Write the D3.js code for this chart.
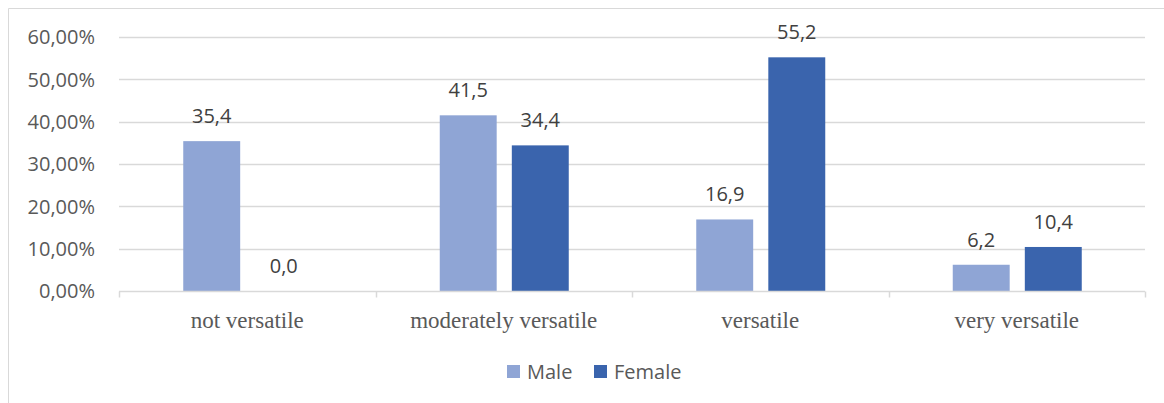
<!DOCTYPE html>
<html lang="en">
<head>
    <meta charset="UTF-8">
    <title>Versatility by gender</title>
    <script src="https://cdnjs.cloudflare.com/ajax/libs/d3/7.8.5/d3.min.js"></script>
    <style>
        body {
            margin: 0;
            background-color: white;
        }
        .y-label, .data-label, .legend text {
            font-family: "Open Sans", "Liberation Sans", sans-serif;
        }
        .cat-label {
            font-family: "Liberation Serif", "Times New Roman", serif;
        }
    </style>
</head>
<body>
    <svg id="chart"></svg>

    <script>
        // Chart data
        const categories = ["not versatile", "moderately versatile", "versatile", "very versatile"];
        const seriesNames = ["Male", "Female"];
        const maleValues = [35.4, 41.5, 16.9, 6.2];
        const femaleValues = [0.0, 34.4, 55.2, 10.4];
        const yTicks = [0, 10, 20, 30, 40, 50, 60];

        const COLORS = { Male: "#8fa5d5", Female: "#3a64ad" };

        const width = 1164;
        const height = 403;
        const margin = { top: 37, right: 19, bottom: 112, left: 119 };

        const svg = d3.select("#chart")
            .attr("width", width)
            .attr("height", height);

        // Outer chart border (top and left visible)
        svg.append("line")
            .attr("x1", 8.5).attr("x2", width)
            .attr("y1", 8.5).attr("y2", 8.5)
            .attr("stroke", "#d9d9d9");
        svg.append("line")
            .attr("x1", 8.5).attr("x2", 8.5)
            .attr("y1", 8.5).attr("y2", height)
            .attr("stroke", "#d9d9d9");

        const x = d3.scaleBand()
            .domain(categories)
            .range([margin.left, width - margin.right]);

        const y = d3.scaleLinear()
            .domain([0, 60])
            .range([height - margin.bottom, margin.top]);

        const xSub = d3.scaleBand()
            .domain(seriesNames)
            .range([x.bandwidth() / 2 - 64, x.bandwidth() / 2 + 65])
            .paddingInner(0.21);

        // Gridlines
        svg.append("g")
            .selectAll("line")
            .data(yTicks.filter(t => t > 0))
            .enter().append("line")
            .attr("x1", margin.left)
            .attr("x2", width - margin.right)
            .attr("y1", d => Math.round(y(d)) + 0.5)
            .attr("y2", d => Math.round(y(d)) + 0.5)
            .attr("stroke", "#d9d9d9")
            .attr("stroke-width", 1.5);

        // Y labels
        svg.append("g")
            .selectAll("text")
            .data(yTicks)
            .enter().append("text")
            .attr("class", "y-label")
            .attr("x", 95)
            .attr("y", d => y(d))
            .attr("dy", "0.36em")
            .attr("text-anchor", "end")
            .attr("font-size", 20)
            .attr("fill", "#595959")
            .text(d => d.toFixed(2).replace(".", ",") + "%");

        // Bars
        const rows = categories.map((c, i) => ({
            category: c,
            values: [
                { series: "Male", value: maleValues[i] },
                { series: "Female", value: femaleValues[i] }
            ]
        }));

        const groups = svg.append("g")
            .selectAll("g")
            .data(rows)
            .enter().append("g")
            .attr("transform", d => `translate(${x(d.category)},0)`);

        groups.selectAll("rect")
            .data(d => d.values)
            .enter().append("rect")
            .attr("x", d => xSub(d.series))
            .attr("width", xSub.bandwidth())
            .attr("y", d => y(d.value))
            .attr("height", d => y(0) - y(d.value))
            .attr("fill", d => COLORS[d.series]);

        groups.selectAll("text")
            .data(d => d.values)
            .enter().append("text")
            .attr("class", "data-label")
            .attr("x", d => xSub(d.series) + xSub.bandwidth() / 2)
            .attr("y", d => y(d.value) - 18)
            .attr("text-anchor", "middle")
            .attr("font-size", 20)
            .attr("fill", "#404040")
            .text(d => d.value.toFixed(1).replace(".", ","));

        // X axis baseline and ticks
        const axisY = Math.round(y(0)) + 0.5;
        svg.append("line")
            .attr("x1", margin.left).attr("x2", width - margin.right)
            .attr("y1", axisY).attr("y2", axisY)
            .attr("stroke", "#d9d9d9")
            .attr("stroke-width", 1.5);

        const tickXs = categories.map(c => x(c)).concat([width - margin.right]);
        svg.append("g")
            .selectAll("line")
            .data(tickXs)
            .enter().append("line")
            .attr("x1", d => Math.round(d) + 0.5)
            .attr("x2", d => Math.round(d) + 0.5)
            .attr("y1", axisY)
            .attr("y2", axisY + 6)
            .attr("stroke", "#d9d9d9")
            .attr("stroke-width", 1.5);

        // Category labels
        svg.append("g")
            .selectAll("text")
            .data(categories)
            .enter().append("text")
            .attr("class", "cat-label")
            .attr("x", d => x(d) + x.bandwidth() / 2)
            .attr("y", 328)
            .attr("text-anchor", "middle")
            .attr("font-size", 23)
            .attr("fill", "#595959")
            .text(d => d);

        // Legend
        const legendItems = [
            { name: "Male", x: 507 },
            { name: "Female", x: 594 }
        ];
        const legend = svg.append("g").attr("class", "legend");
        const li = legend.selectAll("g")
            .data(legendItems)
            .enter().append("g")
            .attr("transform", d => `translate(${d.x},365)`);
        li.append("rect")
            .attr("width", 13)
            .attr("height", 13)
            .attr("fill", d => COLORS[d.name]);
        li.append("text")
            .attr("x", 20)
            .attr("y", 7)
            .attr("dy", "0.36em")
            .attr("font-size", 20)
            .attr("fill", "#595959")
            .text(d => d.name);
    </script>
</body>
</html>
